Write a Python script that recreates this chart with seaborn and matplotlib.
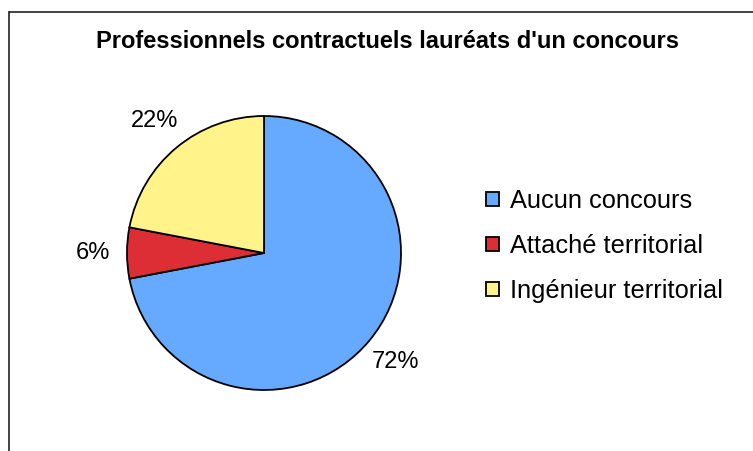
import numpy as np
import matplotlib.pyplot as plt
from matplotlib.lines import Line2D
from matplotlib.patches import Patch
import seaborn as sns

# data
categories = ["Aucun concours", "Attaché territorial", "Ingénieur territorial"]
shares = [72, 6, 22]
colors = ["#66AAFF", "#DD2E35", "#FFF38A"]

sns.set_style("white")
plt.rcParams['font.family'] = ['Liberation Sans', 'DejaVu Sans']
plt.rcParams['text.color'] = 'black'

W, H = 753, 451
fig = plt.figure(figsize=(W / 100, H / 100), dpi=100)

# pie axes: centre (264, 253) px, radius 137 px
cx, cy, r = 264, 253, 137
ax = fig.add_axes([(cx - r) / W, (H - cy - r) / H, 2 * r / W, 2 * r / H])
wedges, texts, autotexts = ax.pie(
    shares, colors=colors, startangle=90, counterclock=False,
    autopct=lambda p: f"{p:.0f}%", pctdistance=1.25,
    wedgeprops=dict(edgecolor="black", linewidth=1.3),
    textprops=dict(fontsize=17, color="black"))
ax.set_xlim(-1, 1)
ax.set_ylim(-1, 1)
ax.set_aspect("auto")

fig.text(388 / W, 1 - 42 / H, "Professionnels contractuels lauréats d'un concours",
         ha="center", va="center", fontsize=17, fontweight="bold", color="black")

handles = [Patch(facecolor=c, edgecolor="black", linewidth=1.3) for c in colors]
leg = fig.legend(handles, categories, loc="center left",
                 bbox_to_anchor=(486 / W, 1 - 246 / H), frameon=False,
                 fontsize=18.3, handlelength=0.5, handleheight=0.5,
                 handletextpad=0.45, labelspacing=0.82, borderpad=0,
                 borderaxespad=0)
for t in leg.get_texts():
    t.set_color("black")

# outer frame (only left and top edges visible in the crop)
fig.add_artist(Line2D([8.5 / W, 8.5 / W], [0, 1 - 12 / H], transform=fig.transFigure,
                      color="#222222", linewidth=1.2))
fig.add_artist(Line2D([8.5 / W, 1], [1 - 12 / H, 1 - 12 / H], transform=fig.transFigure,
                      color="#222222", linewidth=1.2))

fig.savefig("out.png", dpi=100)
